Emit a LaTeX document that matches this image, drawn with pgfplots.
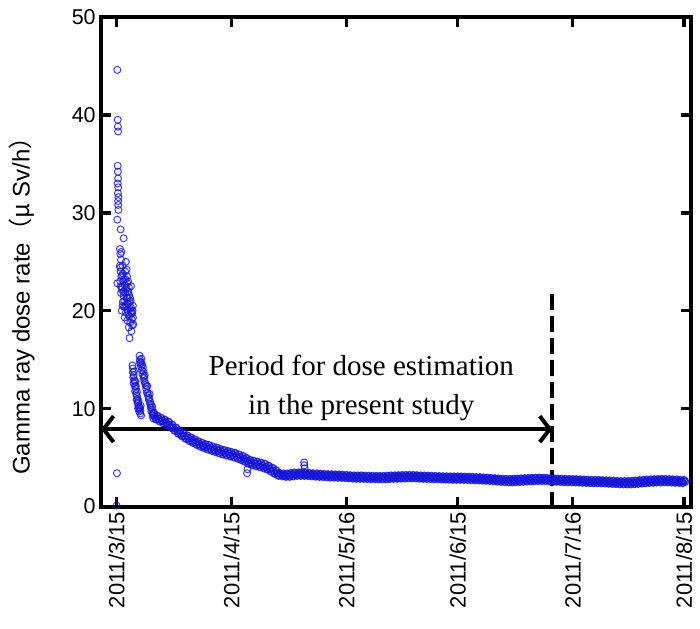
\documentclass[border=0pt]{standalone}
\usepackage{fontspec}
\setmainfont{Liberation Sans}
\newfontfamily\timesfont{Liberation Serif}
\newfontfamily\cjk{Noto Sans CJK JP}
\usepackage{pgfplots}
\pgfplotsset{compat=1.18}
\usetikzlibrary{arrows.meta}
\definecolor{ptblue}{RGB}{20,20,215}
\begin{document}
\begin{tikzpicture}
\begin{axis}[
  scale only axis, width=590pt, height=489.5pt,
  xmin=-4.2, xmax=154.9, ymin=0, ymax=50,
  line width=4pt,
  separate axis lines,
  axis line style={line width=4pt, line cap=rect},
  every tick/.style={line width=3.5pt, black},
  major tick style={line width=3.5pt, black},
  major tick length=10pt,
  tick align=inside, tick pos=both,
  xtick={0,31,62,92,123,153},
  xticklabels={2011/3/15,2011/4/15,2011/5/16,2011/6/15,2011/7/16,2011/8/15},
  xticklabel style={rotate=90, anchor=east, font=\fontsize{22}{26}\selectfont},
  ytick={0,10,20,30,40,50},
  yticklabels={0\hspace{8pt},10\hspace{8pt},20\hspace{8pt},30\hspace{8pt},40\hspace{8pt},50\hspace{8pt}},
  yticklabel style={font=\fontsize{21.5}{26}\selectfont, anchor=east},
  ylabel={Gamma ray dose rate{\cjk （}{\cjk μ} Sv/h{\cjk ）}},
  ylabel style={at={(axis description cs:-0.134,0.422)}, anchor=center, font=\fontsize{24}{28}\selectfont},
]
\addplot[only marks, mark=o, mark size=3.5pt, mark options={draw=ptblue, draw opacity=0.8, line width=1pt}] coordinates {
(0,0.1) (0.1,3.4) (0.2,44.6) (0.3,39.5) (0.35,38.8) (0.4,38.3) (0.3,34.8) (0.35,34.2) (0.4,33.5) (0.3,33.0) (0.45,32.6) (0.35,32.0) (0.5,31.6) (0.4,31.2) (0.45,30.8) (0.5,30.3) (0.2,29.3) (1.1,28.3) (1.9,27.4) (0.2,22.8)
(0.9,26.3) (1.0,25.8) (1.2,25.2) (0.9,24.6) (1.1,24.0) (1.3,23.5) (1.0,23.0) (1.4,22.4) (1.2,21.8) (1.6,24.6) (1.7,23.8) (1.8,23.0) (1.5,22.2) (1.9,21.5) (1.7,20.9) (2.0,20.4)
(2.2,22.6) (2.3,21.8) (2.1,21.0) (2.4,20.4) (2.5,19.8) (2.2,19.3) (2.7,24.2) (2.8,23.5) (2.9,22.8) (3.0,22.0) (2.7,21.3) (3.1,20.7) (2.9,20.1) (3.2,19.6)
(3.3,22.4) (3.4,21.6) (3.5,20.9) (3.6,20.2) (3.4,19.4) (3.7,18.8) (3.5,17.2) (3.8,21.0) (3.9,20.3) (4.0,19.7) (4.1,19.1) (4.2,18.5) (4.0,17.9) (4.3,20.0) (4.4,19.3) (4.5,18.6) (1.3,26.0) (2.5,25.0) (2.0,23.2) (2.6,22.3) (1.4,20.0) (3.9,22.5)
(1.0,24.4) (1.5,23.6) (2.0,22.0) (2.4,23.2) (2.8,20.8) (3.0,21.3) (3.2,21.9) (3.6,21.3) (4.2,19.8) (1.8,21.9) (1.1,22.5) (2.6,20.6) (3.8,19.9) (4.4,20.5) (3.1,23.0) (2.3,24.0) (1.6,20.5) (2.9,19.0) (3.3,18.3)
(4.3,14.4) (4.4,13.7) (4.5,13.2) (4.6,12.6) (4.7,13.8) (4.8,12.9) (4.9,12.3) (5.0,11.8) (5.1,12.7) (5.2,12.0) (5.3,11.5) (5.4,10.9) (5.5,11.7) (5.6,11.0) (5.7,10.5) (5.8,10.0) (5.9,10.8) (6.0,10.2) (6.1,9.7) (6.3,10.1) (6.4,9.5) (6.6,9.3)
(4.4,14.1) (4.6,13.4) (4.9,12.8) (5.2,12.3) (5.5,11.3) (5.8,10.6) (6.1,10.0) (6.4,9.8) (6.5,10.3)
(6.2,15.4) (6.3,15.0) (6.4,14.6) (6.6,14.3) (6.7,15.1) (6.8,13.9) (7.0,13.5) (7.1,14.2) (7.3,13.1) (7.5,12.8) (7.6,13.4) (7.8,12.4) (8.0,12.0) (8.2,11.6) (8.3,12.3) (8.5,11.3) (8.7,10.9) (8.9,11.5) (9.0,10.5) (9.2,10.1) (9.4,9.7) (9.6,10.2) (9.7,9.3) (9.9,9.0)
(6.3,14.8) (6.6,14.7) (6.9,14.5) (7.2,13.8) (7.4,13.3) (7.7,12.6) (8.1,12.3) (8.4,11.6) (8.8,11.1) (9.1,10.7) (9.3,10.4) (9.5,9.9) (9.8,9.5) (10.1,9.6)
(35.2,3.4) (35.3,3.8) (50.6,4.5) (50.6,4.2) (50.7,3.9)
};
\addplot[only marks, mark=o, mark size=3.5pt, mark options={draw=ptblue, draw opacity=0.85, line width=1.5pt}] coordinates {
(10,9.45) (10.33,9.15) (10.67,8.9) (11,9.25) (11.33,8.95) (11.67,8.7) (12,9.05) (12.33,8.75) (12.67,8.5) (13,8.85) (13.33,8.55) (13.67,8.3) (14,8.65) (14.33,8.33) (14.67,8.05)
(15,8.35) (15.33,8.03) (15.67,7.75) (16,8.05) (16.33,7.73) (16.67,7.45) (17,7.75) (17.33,7.44) (17.67,7.18) (18,7.5) (18.33,7.18) (18.67,6.93) (19,7.25) (19.33,6.95) (19.67,6.7)
(20,7.05) (20.33,6.75) (20.67,6.5) (21,6.85) (21.33,6.55) (21.67,6.3) (22,6.65) (22.33,6.36) (22.67,6.12) (23,6.5) (23.33,6.2) (23.67,5.97) (24,6.35) (24.33,6.07) (24.67,5.83)
(25,6.25) (25.33,5.95) (25.67,5.7) (26,6.1) (26.33,5.81) (26.67,5.58) (27,6.0) (27.33,5.7) (27.67,5.45) (28,5.85) (28.33,5.56) (28.67,5.33) (29,5.75) (29.33,5.46) (29.67,5.23)
(30,5.65) (30.33,5.36) (30.67,5.13) (31,5.55) (31.33,5.26) (31.67,5.03) (32,5.45) (32.33,5.15) (32.67,4.9) (33,5.3) (33.33,5.0) (33.67,4.75) (34,5.15) (34.33,4.84) (34.67,4.58)
(35,4.95) (35.33,4.64) (35.67,4.38) (36,4.75) (36.33,4.46) (36.67,4.23) (37,4.65) (37.33,4.36) (37.67,4.13) (38,4.55) (38.33,4.26) (38.67,4.03) (39,4.45) (39.33,4.16) (39.67,3.92)
(40,4.35) (40.33,4.04) (40.67,3.78) (41,4.15) (41.33,3.84) (41.67,3.58) (42,3.95) (42.33,3.63) (42.67,3.35) (43,3.7) (43.33,3.38) (43.67,3.15)
(44,3.4) (44.33,3.25) (44.67,3.1) (45,3.35) (45.33,3.2) (45.67,3.05) (46,3.35) (46.33,3.2) (46.67,3.05) (47,3.4) (47.33,3.25) (47.67,3.1) (48,3.45) (48.33,3.3) (48.67,3.15) (49,3.45) (49.33,3.3) (49.67,3.15)
(50,3.45) (50.33,3.3) (50.67,3.15) (51,3.43) (51.33,3.28) (51.67,3.13) (52,3.4) (52.33,3.25) (52.67,3.1) (53,3.37) (53.33,3.22) (53.67,3.07) (54,3.35) (54.33,3.2) (54.67,3.05)
(55,3.33) (55.33,3.18) (55.67,3.03) (56,3.3) (56.33,3.15) (56.67,3.0) (57,3.28) (57.33,3.13) (57.67,2.98) (58,3.27) (58.33,3.12) (58.67,2.97) (59,3.26) (59.33,3.11) (59.67,2.96)
(60,3.25) (60.33,3.1) (60.67,2.95) (61,3.22) (61.33,3.07) (61.67,2.92) (62,3.2) (62.33,3.05) (62.67,2.9) (63,3.17) (63.33,3.02) (63.67,2.87) (64,3.15) (64.33,3.0) (64.67,2.85)
(65,3.15) (65.33,3.0) (65.67,2.85) (66,3.15) (66.33,3.0) (66.67,2.85) (67,3.13) (67.33,2.98) (67.67,2.83) (68,3.12) (68.33,2.97) (68.67,2.82) (69,3.11) (69.33,2.96) (69.67,2.81)
(70,3.1) (70.33,2.95) (70.67,2.8) (71,3.1) (71.33,2.95) (71.67,2.8) (72,3.1) (72.33,2.95) (72.67,2.8) (73,3.12) (73.33,2.97) (73.67,2.82) (74,3.15) (74.33,3.0) (74.67,2.85)
(75,3.16) (75.33,3.01) (75.67,2.86) (76,3.17) (76.33,3.02) (76.67,2.87) (77,3.19) (77.33,3.04) (77.67,2.89) (78,3.2) (78.33,3.05) (78.67,2.9) (79,3.2) (79.33,3.05) (79.67,2.9)
(80,3.2) (80.33,3.05) (80.67,2.9) (81,3.17) (81.33,3.02) (81.67,2.87) (82,3.15) (82.33,3.0) (82.67,2.85) (83,3.14) (83.33,2.99) (83.67,2.84) (84,3.13) (84.33,2.98) (84.67,2.83)
(85,3.11) (85.33,2.96) (85.67,2.81) (86,3.1) (86.33,2.95) (86.67,2.8) (87,3.08) (87.33,2.93) (87.67,2.78) (88,3.07) (88.33,2.92) (88.67,2.77) (89,3.06) (89.33,2.91) (89.67,2.76)
(90,3.05) (90.33,2.9) (90.67,2.75) (91,3.05) (91.33,2.9) (91.67,2.75) (92,3.05) (92.33,2.9) (92.67,2.75) (93,3.04) (93.33,2.89) (93.67,2.74) (94,3.03) (94.33,2.88) (94.67,2.73)
(95,3.01) (95.33,2.86) (95.67,2.71) (96,3.0) (96.33,2.85) (96.67,2.7) (97,2.98) (97.33,2.83) (97.67,2.68) (98,2.97) (98.33,2.82) (98.67,2.67) (99,2.95) (99.33,2.8) (99.67,2.65)
(100,2.93) (100.33,2.78) (100.67,2.63) (101,2.9) (101.33,2.75) (101.67,2.6) (102,2.87) (102.33,2.72) (102.67,2.57) (103,2.84) (103.33,2.69) (103.67,2.54) (104,2.81) (104.33,2.66) (104.67,2.51)
(105,2.8) (105.33,2.65) (105.67,2.5) (106,2.79) (106.33,2.64) (106.67,2.49) (107,2.81) (107.33,2.66) (107.67,2.51) (108,2.83) (108.33,2.68) (108.67,2.53) (109,2.85) (109.33,2.7) (109.67,2.55)
(110,2.87) (110.33,2.72) (110.67,2.57) (111,2.89) (111.33,2.74) (111.67,2.59) (112,2.91) (112.33,2.76) (112.67,2.61) (113,2.92) (113.33,2.77) (113.67,2.62) (114,2.93) (114.33,2.78) (114.67,2.63)
(115,2.92) (115.33,2.77) (115.67,2.62) (116,2.9) (116.33,2.75) (116.67,2.6) (117,2.87) (117.33,2.72) (117.67,2.57) (118,2.85) (118.33,2.7) (118.67,2.55) (119,2.83) (119.33,2.68) (119.67,2.53)
(120,2.81) (120.33,2.66) (120.67,2.51) (121,2.8) (121.33,2.65) (121.67,2.5) (122,2.79) (122.33,2.64) (122.67,2.49) (123,2.78) (123.33,2.63) (123.67,2.48) (124,2.77) (124.33,2.62) (124.67,2.47)
(125,2.75) (125.33,2.6) (125.67,2.45) (126,2.73) (126.33,2.58) (126.67,2.43) (127,2.71) (127.33,2.56) (127.67,2.41) (128,2.7) (128.33,2.55) (128.67,2.4) (129,2.7) (129.33,2.55) (129.67,2.4)
(130,2.69) (130.33,2.54) (130.67,2.39) (131,2.67) (131.33,2.52) (131.67,2.37) (132,2.65) (132.33,2.5) (132.67,2.35) (133,2.63) (133.33,2.48) (133.67,2.33) (134,2.61) (134.33,2.46) (134.67,2.31)
(135,2.59) (135.33,2.44) (135.67,2.29) (136,2.58) (136.33,2.43) (136.67,2.28) (137,2.58) (137.33,2.43) (137.67,2.28) (138,2.58) (138.33,2.43) (138.67,2.28) (139,2.6) (139.33,2.45) (139.67,2.3)
(140,2.63) (140.33,2.48) (140.67,2.33) (141,2.67) (141.33,2.52) (141.67,2.37) (142,2.7) (142.33,2.55) (142.67,2.4) (143,2.73) (143.33,2.58) (143.67,2.43) (144,2.75) (144.33,2.6) (144.67,2.45)
(145,2.77) (145.33,2.62) (145.67,2.47) (146,2.78) (146.33,2.63) (146.67,2.48) (147,2.79) (147.33,2.64) (147.67,2.49) (148,2.79) (148.33,2.64) (148.67,2.49) (149,2.77) (149.33,2.62) (149.67,2.47)
(150,2.75) (150.33,2.6) (150.67,2.45) (151,2.73) (151.33,2.58) (151.67,2.43) (152,2.71) (152.33,2.56) (152.67,2.41) (153,2.69) (153.3,2.54)
};
\draw[line width=4pt, dash pattern=on 16pt off 6pt] (axis cs:117.5,21.7) -- (axis cs:117.5,0);
\draw[line width=4pt, {Straight Barb[length=10pt,width=26pt]}-{Straight Barb[length=10pt,width=26pt]}] (axis cs:-4.2,7.9) -- (axis cs:117.5,7.9);
\node[font=\timesfont\fontsize{29}{39}\selectfont, align=center] at (axis cs:66,12.1) {Period for dose estimation\\in the present study};
\end{axis}
\pgfresetboundingbox
\path (current axis.south west) ++(-101pt,-121.5pt) rectangle ++(700pt,628pt);
\end{tikzpicture}
\end{document}
